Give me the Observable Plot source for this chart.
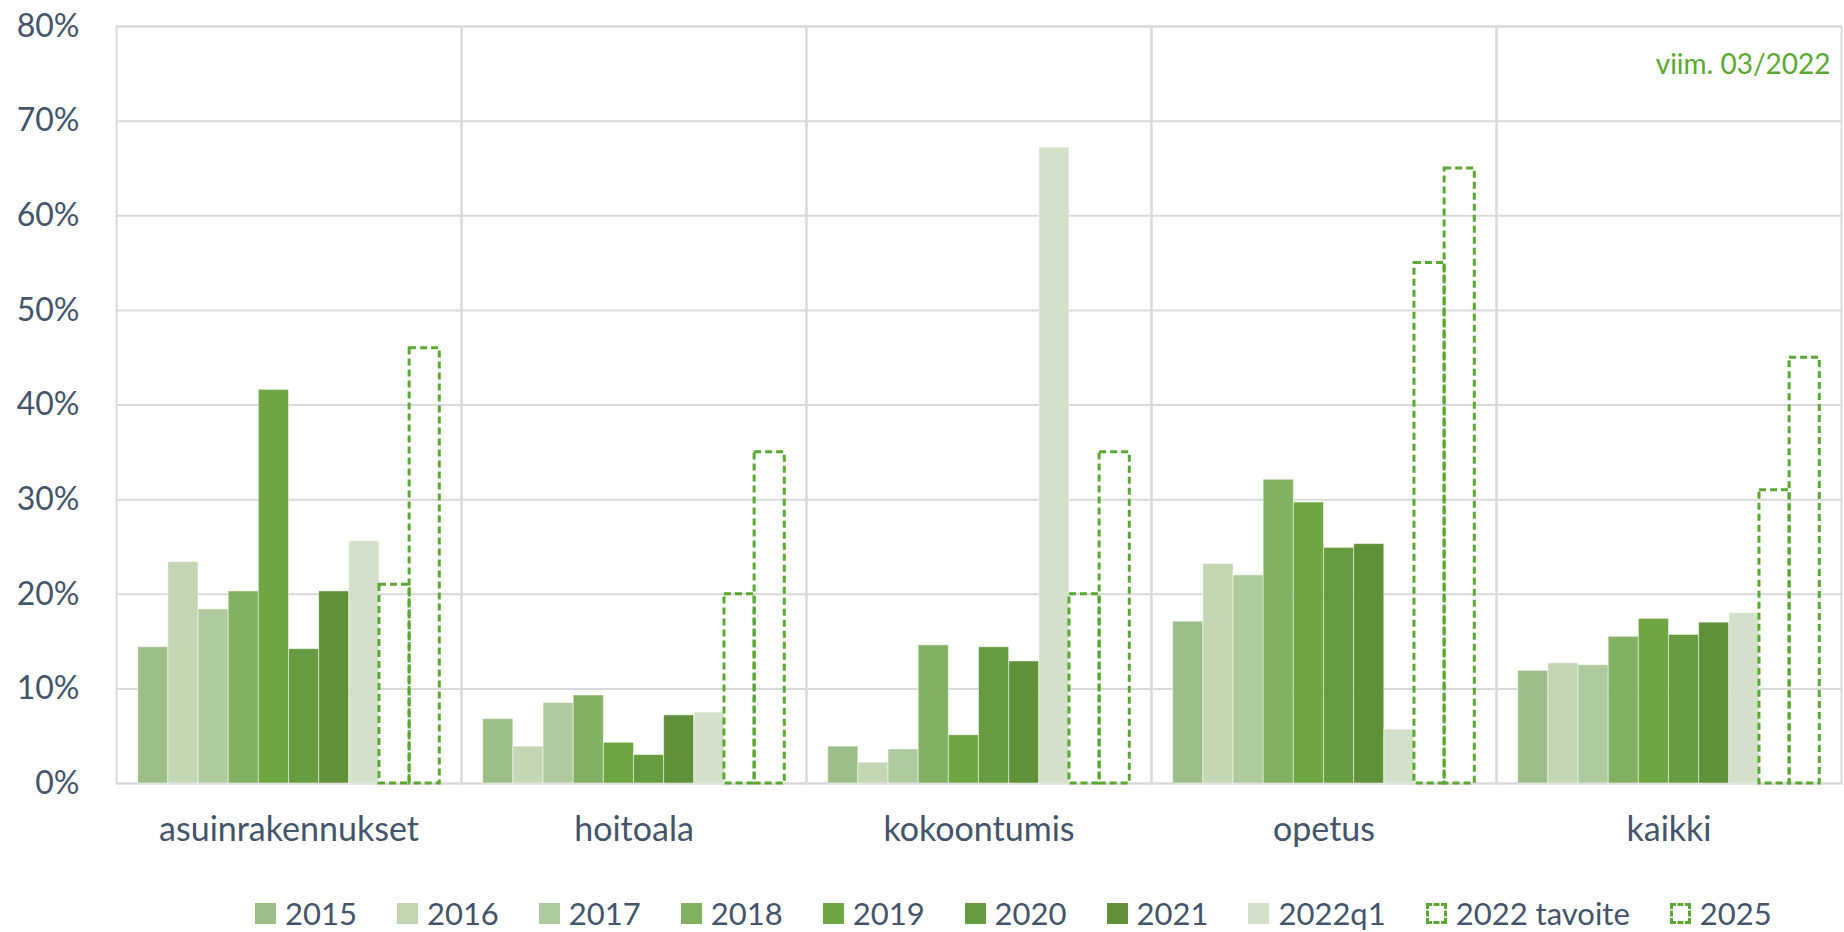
<!DOCTYPE html>
<html><head><meta charset="utf-8">
<script src="https://cdn.jsdelivr.net/npm/d3@7"></script>
<script src="https://cdn.jsdelivr.net/npm/@observablehq/plot@0.6"></script>
<style>
body{margin:0;background:#fff;font-family:Lato,sans-serif;}
#wrap{position:relative;width:1844px;height:932px;overflow:hidden;background:#fff;}
#legend{position:absolute;left:255px;top:893px;height:40px;display:flex;align-items:center;font-size:31px;color:#44546A;white-space:nowrap;}
.item{display:flex;align-items:center;margin-right:40px;}
.sw{width:21px;height:21px;margin-right:9px;box-sizing:border-box;}
</style></head><body><div id="wrap"></div>
<script>
const categories = ["asuinrakennukset", "hoitoala", "kokoontumis", "opetus", "kaikki"];
const series = ["2015", "2016", "2017", "2018", "2019", "2020", "2021", "2022q1", "2022 tavoite", "2025"];
const measuredColors = ["#9DBF87", "#C2D6B4", "#AFCB9D", "#82B163", "#6EA642", "#669B3F", "#5F9139", "#D3E1CB"];
const targetColor = "#5AA832";
const textColor = "#44546A";
const yTicks = [0, 10, 20, 30, 40, 50, 60, 70, 80];

const v2015 = [14.4, 6.8, 3.9, 17.1, 11.9];
const v2016 = [23.4, 3.9, 2.2, 23.2, 12.7];
const v2017 = [18.4, 8.5, 3.6, 22.0, 12.5];
const v2018 = [20.3, 9.3, 14.6, 32.1, 15.5];
const v2019 = [41.6, 4.3, 5.1, 29.7, 17.4];
const v2020 = [14.2, 3.0, 14.4, 24.9, 15.7];
const v2021 = [20.3, 7.2, 12.9, 25.3, 17.0];
const v2022q1 = [25.6, 7.5, 67.2, 5.7, 18.0];
const v2022target = [21, 20, 20, 55, 31];
const v2025 = [46, 35, 35, 65, 45];

const noteText = "viim. 03/2022";

const seriesValues = [v2015, v2016, v2017, v2018, v2019, v2020, v2021, v2022q1, v2022target, v2025];
const nMeasured = measuredColors.length;

const rows = [];
categories.forEach((c, i) => {
  seriesValues.forEach((vals, j) => {
    rows.push({cat: c, series: series[j], value: vals[i], target: j >= nMeasured});
  });
});

const plot = Plot.plot({
  width: 1844, height: 870,
  marginTop: 26, marginBottom: 87, marginLeft: 114, marginRight: 2,
  style: {fontFamily: "Lato, sans-serif", color: textColor, background: "white"},
  fx: {domain: categories, padding: 0, label: null},
  x: {domain: series, paddingInner: 0, paddingOuter: 0.72, axis: null, round: false},
  y: {domain: [0, 80], label: null},
  color: {domain: series.slice(0, nMeasured), range: measuredColors},
  marks: [
    Plot.gridY(yTicks, {stroke: "#d9d9d9", strokeOpacity: 1, strokeWidth: 2}),
    Plot.frame({stroke: "#d9d9d9", strokeWidth: 2}),
    Plot.barY(rows.filter(d => !d.target), {fx: "cat", x: "series", y: "value", fill: "series", stroke: "white", strokeWidth: 1, strokeOpacity: 0.5}),
    Plot.barY(rows.filter(d => d.target), {fx: "cat", x: "series", y: "value", fill: "none", stroke: targetColor, strokeWidth: 3, strokeDasharray: "7,4"}),
    Plot.axisY(yTicks, {tickSize: 0, tickPadding: 37, tickFormat: d => d + "%", fontSize: 32, label: null, fill: textColor}),
    Plot.axisFx({anchor: "bottom", tickSize: 0, tickPadding: 33, fontSize: 34, label: null, fill: textColor}),
    Plot.text([{cat: "kaikki", label: noteText}], {fx: "cat", text: "label", frameAnchor: "top-right", dx: -11, dy: 39, fill: targetColor, fontSize: 28, textAnchor: "end", lineAnchor: "middle"})
  ]
});

const wrap = document.getElementById("wrap");
wrap.appendChild(plot);

const legend = document.createElement("div");
legend.id = "legend";
series.forEach((s, j) => {
  const item = document.createElement("div");
  item.className = "item";
  const sw = document.createElement("div");
  sw.className = "sw";
  if (j < nMeasured) sw.style.background = measuredColors[j];
  else sw.style.border = "3px dashed " + targetColor;
  const t = document.createElement("span");
  t.textContent = s;
  item.appendChild(sw);
  item.appendChild(t);
  legend.appendChild(item);
});
wrap.appendChild(legend);
</script>
</body></html>
